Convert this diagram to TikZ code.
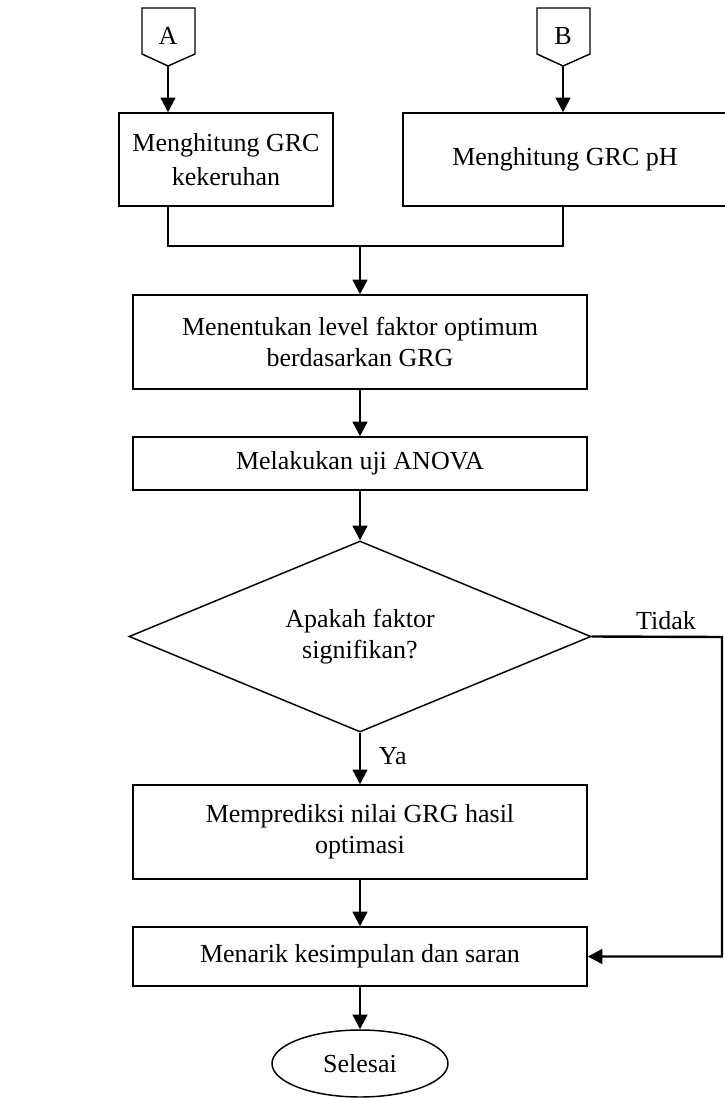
\documentclass[tikz,border=0pt]{standalone}
\usepackage{fontspec}
\setmainfont{Liberation Serif}
\usetikzlibrary{arrows.meta,shapes.geometric}

\begin{document}
\begin{tikzpicture}[x=0.75pt,y=-0.75pt,
    every node/.style={font=\fontsize{19.5}{23}\selectfont},
    boxnode/.style={rectangle,draw,line width=1.1pt,align=center,minimum width=340.5pt},
    arrowline/.style={line width=1.8pt,-{Triangle[length=11pt,width=11pt]}},]
    \useasboundingbox (0,0) rectangle (724,1098);
    % penghubung A dan B
    \draw[line width=1.1pt] (142,8) -- (195,8) -- (195,54) -- (168,66) -- (142,54) -- cycle;
    \draw[line width=1.1pt] (537,8) -- (590,8) -- (590,54) -- (563,66) -- (537,54) -- cycle;
    \node at (168,36) (konA) {A};
    \node at (563,36) (konB) {B};
    \coordinate (ujungA) at (168,66);
    \coordinate (ujungB) at (563,66);
    \node[boxnode,minimum width=160.5pt,minimum height=69.75pt,font=\fontsize{19.5}{26}\selectfont] at (226,159.5) (grcKeruh) {Menghitung GRC\\kekeruhan};
    \node[boxnode,minimum width=243pt,minimum height=69.75pt] at (565,159.5) (grcPH) {Menghitung GRC pH};
    \path[arrowline] (ujungA) edge (ujungA |- grcKeruh.north);
    \path[arrowline] (ujungB) edge (ujungB |- grcPH.north);
    \coordinate (gabung) at (360,246);
    \draw[line width=1.1pt] (grcKeruh.south -| ujungA) -- (ujungA |- gabung) -- (ujungB |- gabung) -- (grcPH.south -| ujungB);
    \node[boxnode,minimum height=70.5pt] at (360,342) (levelOpt) {Menentukan level faktor optimum\\berdasarkan GRG};
    \node[boxnode,minimum height=39.75pt] at (360,463.5) (anova) {Melakukan uji ANOVA};
    \node[diamond,draw,line width=1.1pt,align=center,aspect=2.4,minimum width=346.5pt,minimum height=143.25pt] at (360,636.5) (signif) {Apakah faktor\\signifikan?};
    \node[boxnode,minimum height=70.5pt] at (360,832) (prediksi) {Memprediksi nilai GRG hasil\\optimasi};
    \node[boxnode,minimum height=44.25pt] at (360,956.5) (simpulan) {Menarik kesimpulan dan saran};
    \node[ellipse,draw,line width=1.1pt,minimum width=132pt,minimum height=50.25pt] at (360,1063.5) (selesai) {Selesai};
    \path[arrowline] (gabung) edge (levelOpt.north);
    \path[arrowline] (levelOpt.south) edge (anova.north);
    \path[arrowline] (anova.south) edge (signif.north);
    \path[arrowline] (signif.south) edge node[right=10pt,pos=0.45] (ya) {Ya} (prediksi.north);
    \path[arrowline] (prediksi.south) edge (simpulan.north);
    \path[arrowline] (simpulan.south) edge (selesai.north);
    % jalur tidak
    \coordinate (belok) at (722,637);
    \node at (666,621) (tidak) {Tidak};
    \draw[arrowline] (signif.east) -- (belok) -- (belok |- simpulan.east) -- (simpulan.east);
\end{tikzpicture}
\end{document}
